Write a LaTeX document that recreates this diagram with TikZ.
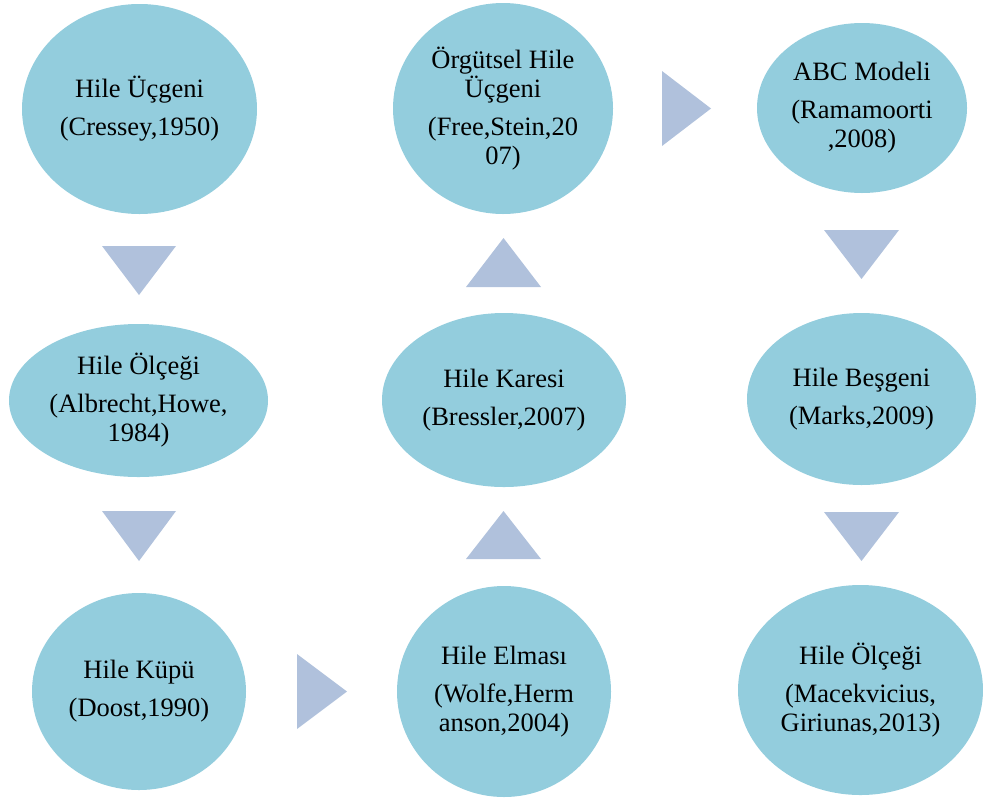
\documentclass[tikz,border=0pt]{standalone}
\usepackage{fontspec}
\setmainfont{Liberation Serif}
\usetikzlibrary{shapes.geometric}
\definecolor{blobfill}{HTML}{93CDDD}
\definecolor{trifill}{HTML}{B0C1DC}
% one unit = one half point; blob sizes are given in the same units
\tikzset{
  blob/.style n args={2}{ellipse, fill=blobfill, draw=none, inner sep=0pt, align=center,
    minimum width=#1*0.5pt, minimum height=#2*0.5pt,
    font=\fontsize{13.25}{14.5}\selectfont, text=black},
  arrowtri/.style={fill=trifill, draw=none}
}
\newcommand{\gap}{\\[4.5pt]}
\begin{document}
\begin{tikzpicture}[x=0.5pt, y=-0.5pt]
\useasboundingbox (0,0) rectangle (983,798);

% left column
\node[blob={235}{210}] (n1) at (139.5,109) {Hile Üçgeni\gap(Cressey,1950)};
\node[blob={259}{153}] (n2) at (138.5,400.5) {Hile Ölçeği\gap(Albrecht,Howe,\\1984)};
\node[blob={214}{197}] (n3) at (139,691.5) {Hile Küpü\gap(Doost,1990)};

% middle column
\node[blob={220}{211}] (n4) at (503,108.5) {Örgütsel Hile\\Üçgeni\gap(Free,Stein,20\\07)};
\node[blob={244}{174}] (n5) at (504,400) {Hile Karesi\gap(Bressler,2007)};
\node[blob={214}{211}] (n6) at (504,691.5) {Hile Elması\gap(Wolfe,Herm\\anson,2004)};

% right column
\node[blob={210}{170}] (n7) at (862,108) {ABC Modeli\gap(Ramamoorti\\,2008)};
\node[blob={229}{172}] (n8) at (861.5,399) {Hile Beşgeni\gap(Marks,2009)};
\node[blob={245}{210}] (n9) at (860.5,690) {Hile Ölçeği\gap(Macekvicius,\\Giriunas,2013)};

% downward triangles
\fill[arrowtri] (102,246) -- (176,246) -- (139,295) -- cycle;
\fill[arrowtri] (102,511) -- (176,511) -- (139,561) -- cycle;
\fill[arrowtri] (824,230) -- (899,230) -- (861.5,279) -- cycle;
\fill[arrowtri] (824,512) -- (899,512) -- (861.5,561) -- cycle;

% upward triangles
\fill[arrowtri] (466,287) -- (541,287) -- (503.5,238) -- cycle;
\fill[arrowtri] (466,559) -- (541,559) -- (503.5,511) -- cycle;

% rightward triangles
\fill[arrowtri] (297,654) -- (297,729) -- (347,691.5) -- cycle;
\fill[arrowtri] (662,71) -- (662,146) -- (711,108.5) -- cycle;
\end{tikzpicture}
\end{document}
